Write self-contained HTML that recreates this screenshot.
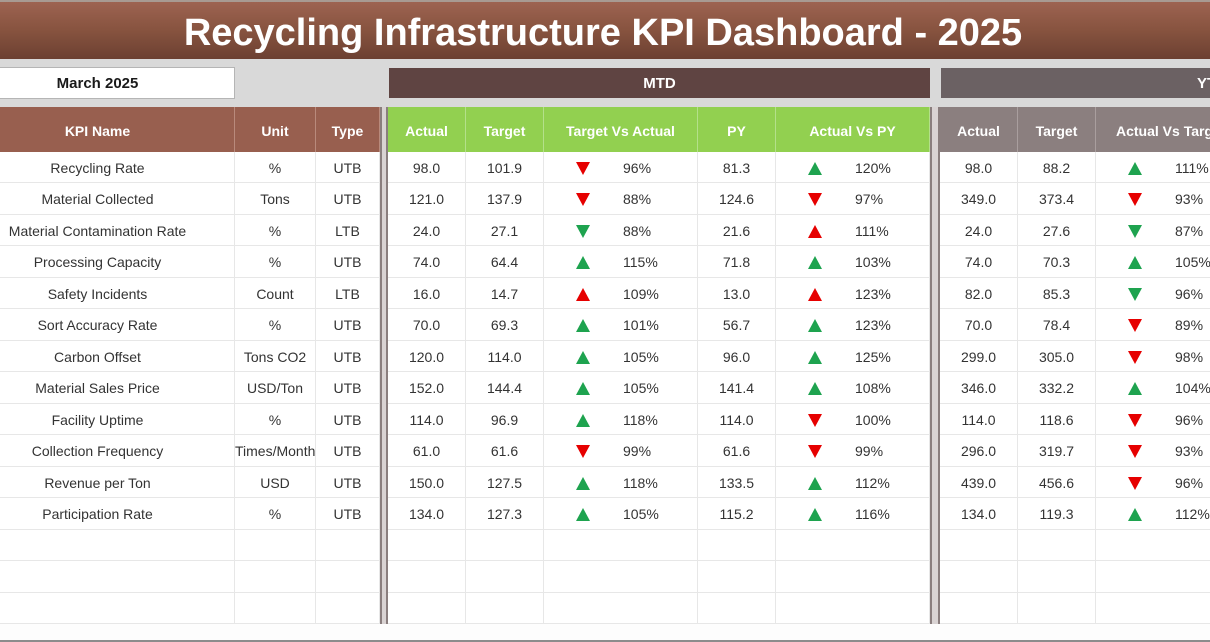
<!DOCTYPE html>
<html>
<head>
<meta charset="utf-8">
<style>
*{box-sizing:border-box;margin:0;padding:0}
html,body{width:1210px;height:642px;overflow:hidden;background:#fdfdfd;font-family:"Liberation Sans",Arial,sans-serif}
.title{position:absolute;left:0;top:0;width:1210px;height:59px;border-top:2px solid #a89a92;background:linear-gradient(#9d6351,#87533f 50%,#6c4032);color:#fff;font-weight:bold;font-size:38px;text-align:center;line-height:62px;padding-right:4px}
.band{position:absolute;left:0;top:59px;width:1210px;height:48px;background:#d9d9d9}
.month{position:absolute;left:-40px;top:67px;width:275px;height:32px;background:#fff;border:1px solid #b5b5b5;font-weight:bold;font-size:15px;text-align:center;line-height:32px;color:#1a1a1a}
.bar{position:absolute;top:68px;height:30px;color:#fff;font-weight:bold;font-size:15px;text-align:center;line-height:32px}
.tbl{position:absolute;top:107px;height:517px;display:grid;background:#fff}
.tbl div{border-right:1px solid #e7e7e7;border-bottom:1px solid #e7e7e7;font-size:14px;color:#333;text-align:center;line-height:33px;white-space:nowrap;overflow:hidden;position:relative}
.tbl div.h{color:#fff;font-weight:bold;font-size:14px;line-height:48px;border-bottom:none}
.L .h{background:#985f4f;border-right:1px solid #b98a7c}
.M .h{background:#92d050;border-right:1px solid #b4e08a}
.Y .h{background:#8b7f7f;border-right:1px solid #a99e9e}
.gap{position:absolute;top:107px;height:517px;background:#d9d3d3;border-left:2px solid #8a7e7e;border-right:2px solid #8a7e7e}
.tri{position:absolute;left:32px;top:10px;width:0;height:0;border-left:7px solid transparent;border-right:7px solid transparent}
.up{border-bottom:13px solid}
.dn{border-top:13px solid}
.g{border-bottom-color:#1ea34f;border-top-color:#1ea34f}
.r{border-bottom-color:#e60000;border-top-color:#e60000}
.p{position:absolute;left:79px;top:0}
.bot{position:absolute;left:0;top:640px;width:1210px;height:2px;background:#8c8c8c}
</style>
</head>
<body>
<div class="title">Recycling Infrastructure KPI Dashboard - 2025</div>
<div class="band"></div>
<div class="month">March 2025</div>
<div class="bar" style="left:389px;width:541px;background:#5f4442">MTD</div>
<div class="bar" style="left:941px;width:300px;background:#6b6163;text-align:left;padding-left:256px">YTD</div>

<div class="tbl L" style="left:-39px;width:419px;grid-template-columns:274px 81px 64px;grid-template-rows:45px repeat(15,31.47px)">
<div class="h">KPI Name</div><div class="h">Unit</div><div class="h">Type</div>
<div>Recycling Rate</div><div>%</div><div>UTB</div>
<div>Material Collected</div><div>Tons</div><div>UTB</div>
<div>Material Contamination Rate</div><div>%</div><div>LTB</div>
<div>Processing Capacity</div><div>%</div><div>UTB</div>
<div>Safety Incidents</div><div>Count</div><div>LTB</div>
<div>Sort Accuracy Rate</div><div>%</div><div>UTB</div>
<div>Carbon Offset</div><div>Tons CO2</div><div>UTB</div>
<div>Material Sales Price</div><div>USD/Ton</div><div>UTB</div>
<div>Facility Uptime</div><div>%</div><div>UTB</div>
<div>Collection Frequency</div><div>Times/Month</div><div>UTB</div>
<div>Revenue per Ton</div><div>USD</div><div>UTB</div>
<div>Participation Rate</div><div>%</div><div>UTB</div>
<div></div><div></div><div></div>
<div></div><div></div><div></div>
<div></div><div></div><div></div>
</div>

<div class="gap" style="left:380px;width:8px"></div>

<div class="tbl M" style="left:388px;width:542px;grid-template-columns:78px 78px 154px 78px 154px;grid-template-rows:45px repeat(15,31.47px)">
<div class="h">Actual</div><div class="h">Target</div><div class="h">Target Vs Actual</div><div class="h">PY</div><div class="h">Actual Vs PY</div>
<div>98.0</div><div>101.9</div><div><span class="tri dn r"></span><span class="p">96%</span></div><div>81.3</div><div><span class="tri up g"></span><span class="p">120%</span></div>
<div>121.0</div><div>137.9</div><div><span class="tri dn r"></span><span class="p">88%</span></div><div>124.6</div><div><span class="tri dn r"></span><span class="p">97%</span></div>
<div>24.0</div><div>27.1</div><div><span class="tri dn g"></span><span class="p">88%</span></div><div>21.6</div><div><span class="tri up r"></span><span class="p">111%</span></div>
<div>74.0</div><div>64.4</div><div><span class="tri up g"></span><span class="p">115%</span></div><div>71.8</div><div><span class="tri up g"></span><span class="p">103%</span></div>
<div>16.0</div><div>14.7</div><div><span class="tri up r"></span><span class="p">109%</span></div><div>13.0</div><div><span class="tri up r"></span><span class="p">123%</span></div>
<div>70.0</div><div>69.3</div><div><span class="tri up g"></span><span class="p">101%</span></div><div>56.7</div><div><span class="tri up g"></span><span class="p">123%</span></div>
<div>120.0</div><div>114.0</div><div><span class="tri up g"></span><span class="p">105%</span></div><div>96.0</div><div><span class="tri up g"></span><span class="p">125%</span></div>
<div>152.0</div><div>144.4</div><div><span class="tri up g"></span><span class="p">105%</span></div><div>141.4</div><div><span class="tri up g"></span><span class="p">108%</span></div>
<div>114.0</div><div>96.9</div><div><span class="tri up g"></span><span class="p">118%</span></div><div>114.0</div><div><span class="tri dn r"></span><span class="p">100%</span></div>
<div>61.0</div><div>61.6</div><div><span class="tri dn r"></span><span class="p">99%</span></div><div>61.6</div><div><span class="tri dn r"></span><span class="p">99%</span></div>
<div>150.0</div><div>127.5</div><div><span class="tri up g"></span><span class="p">118%</span></div><div>133.5</div><div><span class="tri up g"></span><span class="p">112%</span></div>
<div>134.0</div><div>127.3</div><div><span class="tri up g"></span><span class="p">105%</span></div><div>115.2</div><div><span class="tri up g"></span><span class="p">116%</span></div>
<div></div><div></div><div></div><div></div><div></div>
<div></div><div></div><div></div><div></div><div></div>
<div></div><div></div><div></div><div></div><div></div>
</div>

<div class="gap" style="left:930px;width:10px"></div>

<div class="tbl Y" style="left:940px;width:310px;grid-template-columns:78px 78px 154px;grid-template-rows:45px repeat(15,31.47px)">
<div class="h">Actual</div><div class="h">Target</div><div class="h" style="text-align:left;padding-left:20px">Actual Vs Target</div>
<div>98.0</div><div>88.2</div><div><span class="tri up g"></span><span class="p">111%</span></div>
<div>349.0</div><div>373.4</div><div><span class="tri dn r"></span><span class="p">93%</span></div>
<div>24.0</div><div>27.6</div><div><span class="tri dn g"></span><span class="p">87%</span></div>
<div>74.0</div><div>70.3</div><div><span class="tri up g"></span><span class="p">105%</span></div>
<div>82.0</div><div>85.3</div><div><span class="tri dn g"></span><span class="p">96%</span></div>
<div>70.0</div><div>78.4</div><div><span class="tri dn r"></span><span class="p">89%</span></div>
<div>299.0</div><div>305.0</div><div><span class="tri dn r"></span><span class="p">98%</span></div>
<div>346.0</div><div>332.2</div><div><span class="tri up g"></span><span class="p">104%</span></div>
<div>114.0</div><div>118.6</div><div><span class="tri dn r"></span><span class="p">96%</span></div>
<div>296.0</div><div>319.7</div><div><span class="tri dn r"></span><span class="p">93%</span></div>
<div>439.0</div><div>456.6</div><div><span class="tri dn r"></span><span class="p">96%</span></div>
<div>134.0</div><div>119.3</div><div><span class="tri up g"></span><span class="p">112%</span></div>
<div></div><div></div><div></div>
<div></div><div></div><div></div>
<div></div><div></div><div></div>
</div>

<div class="bot"></div>
</body>
</html>
